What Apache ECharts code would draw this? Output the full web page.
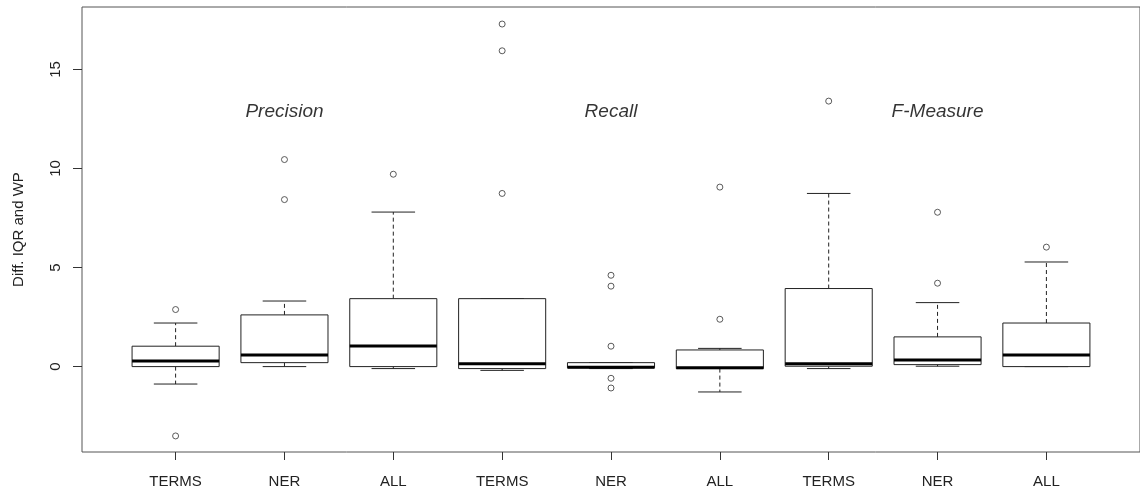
<!DOCTYPE html>
<html>
<head>
<meta charset="utf-8">
<script src="https://cdn.jsdelivr.net/npm/echarts@6/dist/echarts.min.js"></script>
<style>
  html, body { margin: 0; padding: 0; background: #fff; }
  #chart { width: 1140px; height: 492px; }
</style>
</head>
<body>
<div id="chart"></div>
<script>
// one box per (measure, source) pair, left to right
const categories = ['TERMS', 'NER', 'ALL', 'TERMS', 'NER', 'ALL', 'TERMS', 'NER', 'ALL'];
const lowWhisker = [-0.88, 0, -0.1, -0.19, -0.1, -1.28, -0.1, 0.02, 0];
const q1 = [0, 0.2, 0, -0.1, -0.06, -0.1, 0.02, 0.1, 0];
const median = [0.28, 0.59, 1.04, 0.15, -0.03, -0.06, 0.15, 0.33, 0.59];
const q3 = [1.03, 2.61, 3.43, 3.43, 0.2, 0.84, 3.94, 1.5, 2.2];
const highWhisker = [2.2, 3.31, 7.8, 3.43, 0.2, 0.92, 8.74, 3.23, 5.28];
// [box position (1-based), value]
const outliers = [
  [1, 2.88], [1, -3.5],
  [2, 8.43], [2, 10.45],
  [3, 9.71],
  [4, 17.29], [4, 15.94], [4, 8.74],
  [5, 4.61], [5, 4.06], [5, 1.03], [5, -0.59], [5, -1.08],
  [6, 9.06], [6, 2.39],
  [7, 13.4],
  [8, 7.79], [8, 4.21],
  [9, 6.03]
];
const groupTitles = ['Precision', 'Recall', 'F-Measure'];
const groupTitlePos = [[2, 12.85], [5, 12.85], [8, 12.85]];
const yTicks = [0, 5, 10, 15];

const boxData = categories.map((c, i) => [i + 1, lowWhisker[i], q1[i], median[i], q3[i], highWhisker[i]]);
const lineColor = '#222';
const font = 'Liberation Sans, Arial, sans-serif';

function renderBox(params, api) {
  const x = api.value(0);
  const pLo = api.coord([x, api.value(1)]);
  const pQ1 = api.coord([x, api.value(2)]);
  const pMed = api.coord([x, api.value(3)]);
  const pQ3 = api.coord([x, api.value(4)]);
  const pHi = api.coord([x, api.value(5)]);
  const halfBox = api.size([0.4, 0])[0];
  const halfCap = api.size([0.2, 0])[0];
  const cx = pMed[0];
  const dashed = { stroke: lineColor, lineWidth: 1, lineDash: [4, 3] };
  const solid = { stroke: lineColor, lineWidth: 1 };
  const children = [];
  if (pHi[1] < pQ3[1]) {
    children.push({ type: 'line', shape: { x1: cx, y1: pQ3[1], x2: cx, y2: pHi[1] }, style: dashed });
  }
  if (pLo[1] > pQ1[1]) {
    children.push({ type: 'line', shape: { x1: cx, y1: pQ1[1], x2: cx, y2: pLo[1] }, style: dashed });
  }
  children.push(
    { type: 'line', shape: { x1: cx - halfCap, y1: pHi[1], x2: cx + halfCap, y2: pHi[1] }, style: solid },
    { type: 'line', shape: { x1: cx - halfCap, y1: pLo[1], x2: cx + halfCap, y2: pLo[1] }, style: solid },
    {
      type: 'rect',
      shape: { x: cx - halfBox, y: pQ3[1], width: halfBox * 2, height: Math.max(pQ1[1] - pQ3[1], 1) },
      style: { fill: '#fff', stroke: lineColor, lineWidth: 1 }
    },
    { type: 'line', shape: { x1: cx - halfBox, y1: pMed[1], x2: cx + halfBox, y2: pMed[1] }, style: { stroke: '#000', lineWidth: 3 } }
  );
  return { type: 'group', children };
}

const chart = echarts.init(document.getElementById('chart'));
chart.setOption({
  animation: false,
  backgroundColor: '#fff',
  grid: { left: 82, top: 7, width: 1063, height: 445, show: true, borderColor: '#555', borderWidth: 1, backgroundColor: 'transparent' },
  xAxis: {
    type: 'value',
    min: 0.14,
    max: 9.86,
    splitLine: { show: false },
    axisLine: { show: false, onZero: false },
    axisTick: { show: true, length: 8, customValues: categories.map((c, i) => i + 1), lineStyle: { color: '#333' } },
    axisLabel: {
      customValues: categories.map((c, i) => i + 1),
      formatter: v => categories[Math.round(v) - 1] || '',
      margin: 22,
      fontFamily: font,
      fontSize: 15,
      color: '#222'
    }
  },
  yAxis: {
    type: 'value',
    min: -4.31,
    max: 18.15,
    splitLine: { show: false },
    axisLine: { show: false, onZero: false },
    axisTick: { show: true, length: 9, customValues: yTicks, lineStyle: { color: '#333' } },
    axisLabel: {
      customValues: yTicks,
      rotate: 90,
      margin: 19,
      fontFamily: font,
      fontSize: 15,
      color: '#222'
    },
    name: 'Diff. IQR and WP',
    nameLocation: 'middle',
    nameRotate: 90,
    nameGap: 56,
    nameTextStyle: { fontFamily: font, fontSize: 15, color: '#222' }
  },
  series: [
    {
      type: 'custom',
      renderItem: renderBox,
      encode: { x: 0, y: [1, 2, 3, 4, 5] },
      data: boxData,
      z: 2
    },
    {
      type: 'scatter',
      data: outliers,
      symbol: 'circle',
      symbolSize: 6,
      itemStyle: { color: '#fff', borderColor: '#333', borderWidth: 1 },
      z: 3
    },
    {
      type: 'scatter',
      data: groupTitlePos.map((p, i) => ({ value: p, name: groupTitles[i] })),
      symbolSize: 0,
      label: {
        show: true,
        position: 'inside',
        formatter: p => p.name,
        fontFamily: font,
        fontStyle: 'italic',
        fontSize: 19,
        color: '#000'
      },
      z: 4
    }
  ]
});
</script>
</body>
</html>
